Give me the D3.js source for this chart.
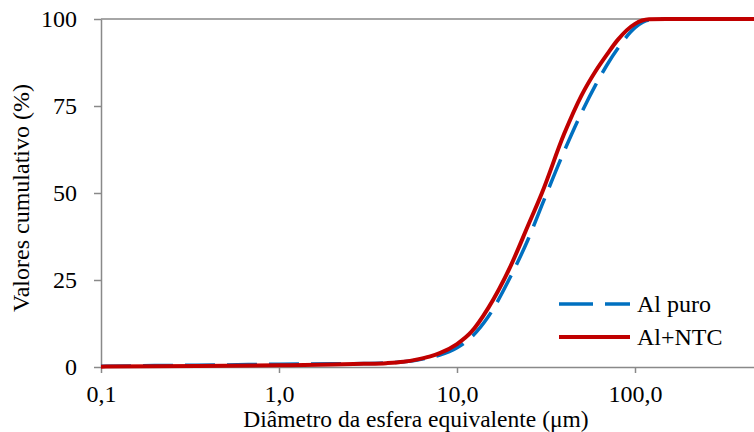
<!DOCTYPE html>
<html>
<head>
<meta charset="utf-8">
<script src="https://cdn.jsdelivr.net/npm/d3@7"></script>
<style>
  body { margin: 0; background: #fff; }
  svg { display: block; font-family: "Liberation Serif", "Times New Roman", serif; }
</style>
</head>
<body>
<svg width="754" height="432"></svg>
<script>
// diametro (um) e valores cumulativos (%)
var diametro = [0.1, 0.2, 0.5, 1, 2, 3, 4, 5, 6, 7, 8, 10, 12, 15, 20, 25, 30, 40, 50, 60, 70, 80, 100, 120, 150, 200, 500, 1000];
var alPuro  = [0.2, 0.4, 0.6, 0.8, 0.9, 1.0, 1.2, 1.5, 2.0, 2.7, 3.4, 5.5, 8.5, 14.5, 26, 36.5, 46.5, 62, 73, 81, 87, 91.5, 97.5, 99.7, 100, 100, 100, 100];
var alNTC   = [0.1, 0.2, 0.35, 0.5, 0.7, 0.9, 1.1, 1.5, 2.2, 3.0, 4.0, 6.6, 10, 17, 29, 40.5, 50, 67, 78, 85, 90, 94, 98.6, 99.9, 100, 100, 100, 100];

var xTicks = [0.1, 1, 10, 100];
var xTickLabels = ["0,1", "1,0", "10,0", "100,0"];
var yTicks = [0, 25, 50, 75, 100];

var series = [
  { name: "Al puro", values: alPuro, color: "#0070C0", width: 3.5, dash: "30,12" },
  { name: "Al+NTC", values: alNTC, color: "#C00000", width: 4, dash: null }
];

var svg = d3.select("svg"),
  margin = { left: 101, top: 19, bottom: 367 };

// eixo x logaritmico; o grafico original esta cortado a direita
var x = d3.scaleLog().domain([0.1, 1000]).range([margin.left, margin.left + 4 * 178]);
var y = d3.scaleLinear().domain([0, 100]).range([margin.bottom, margin.top]);

var axisColor = "#898989";

// linha no topo (100)
svg.append("line")
  .attr("x1", margin.left).attr("x2", 754)
  .attr("y1", y(100)).attr("y2", y(100))
  .attr("stroke", axisColor).attr("stroke-width", 1.5);

// eixo y
var gy = svg.append("g")
  .attr("transform", "translate(" + margin.left + ",0)")
  .call(d3.axisLeft(y).tickValues(yTicks).tickSize(7).tickSizeOuter(0).tickPadding(17));

// eixo x
var gx = svg.append("g")
  .attr("transform", "translate(0," + margin.bottom + ")")
  .call(d3.axisBottom(x).tickValues(xTicks).tickSize(6).tickSizeOuter(0).tickPadding(12)
    .tickFormat(function(d, i) { return xTickLabels[i]; }));

[gx, gy].forEach(function(g) {
  g.select(".domain").attr("stroke", axisColor).attr("stroke-width", 1.5);
  g.selectAll(".tick line").attr("stroke", axisColor).attr("stroke-width", 1.5);
  g.selectAll(".tick text")
    .attr("fill", "#000")
    .attr("font-family", "Liberation Serif, Times New Roman, serif")
    .attr("font-size", 24);
});

// curvas
var line = d3.line()
  .x(function(d) { return x(d[0]); })
  .y(function(d) { return y(d[1]); })
  .curve(d3.curveMonotoneX);

series.forEach(function(s) {
  svg.append("path")
    .datum(diametro.map(function(d, i) { return [d, s.values[i]]; }))
    .attr("fill", "none")
    .attr("stroke", s.color)
    .attr("stroke-width", s.width)
    .attr("stroke-dasharray", s.dash)
    .attr("d", line);
});

// titulos dos eixos
svg.append("text")
  .attr("x", 416).attr("y", 427)
  .attr("text-anchor", "middle")
  .attr("font-size", 23.5)
  .text("Diâmetro da esfera equivalente (μm)");

svg.append("text")
  .attr("transform", "translate(29,198) rotate(-90)")
  .attr("text-anchor", "middle")
  .attr("font-size", 24)
  .text("Valores cumulativo (%)");

// legenda
var legend = svg.append("g")
  .selectAll("g")
  .data(series)
  .enter().append("g")
  .attr("transform", function(d, i) { return "translate(559," + (304 + i * 33) + ")"; });

legend.append("line")
  .attr("x1", 0).attr("x2", 71)
  .attr("stroke", function(d) { return d.color; })
  .attr("stroke-width", function(d) { return d.width; })
  .attr("stroke-dasharray", function(d) { return d.dash ? "34,12" : null; });

legend.append("text")
  .attr("x", 78)
  .attr("y", 8)
  .attr("font-size", 24)
  .text(function(d) { return d.name; });
</script>
</body>
</html>
